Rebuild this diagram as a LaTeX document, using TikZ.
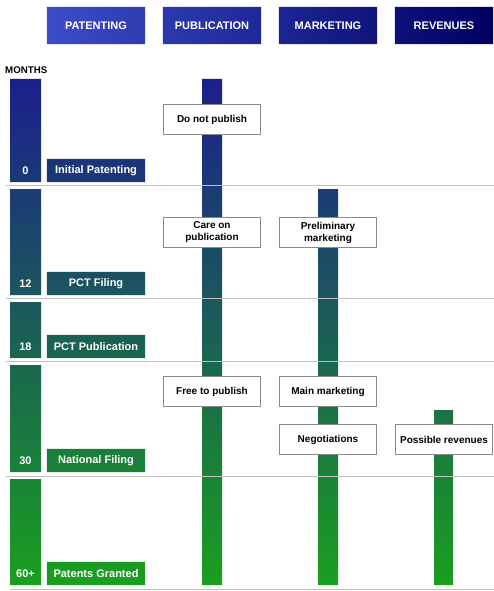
\documentclass[tikz,border=0pt]{standalone}
\usepackage{fontspec}
\setmainfont{Liberation Sans}
\usetikzlibrary{backgrounds}
\definecolor{headleft}{HTML}{3C4DC8}
\definecolor{headright}{HTML}{000062}
\definecolor{bartop}{HTML}{1B1F8C}
\definecolor{barbot}{HTML}{1A9F1F}
\definecolor{rulegray}{HTML}{C0C0C0}
\definecolor{boxgray}{HTML}{8A8A8A}
\tikzset{
  head/.style={minimum width=98bp, minimum height=37bp, inner sep=0pt, text=white,
    font=\bfseries\fontsize{11bp}{13bp}\selectfont},
  stage/.style={minimum width=98bp, minimum height=23bp, inner sep=0pt, text=white,
    font=\bfseries\fontsize{11bp}{13bp}\selectfont},
  monthnum/.style={inner sep=0pt, text=white, font=\bfseries\fontsize{11bp}{13bp}\selectfont},
  note/.style={draw=boxgray, line width=1bp, fill=white, minimum width=97bp,
    minimum height=30bp, inner sep=0pt, align=center,
    font=\bfseries\fontsize{10bp}{12bp}\selectfont},
  sep/.style={draw=rulegray, line width=1bp}
}

\begin{document}
\begin{tikzpicture}[x=1bp, y=-1bp]
  \useasboundingbox (0,0) rectangle (494,591);

  % Column headers
  \node[head] (hpat) at (96,25.5)  {PATENTING};
  \node[head] (hpub) at (212,25.5) {PUBLICATION};
  \node[head] (hmkt) at (328,25.5) {MARKETING};
  \node[head] (hrev) at (444,25.5) {REVENUES};

  \node[anchor=west, inner sep=0pt, font=\bfseries\fontsize{9.7bp}{11bp}\selectfont]
    (months) at (5,70.5) {MONTHS};

  % Separator lines
  \foreach \y in {185,298,361,476}
    \draw[sep] (6,\y) -- (494,\y);
  \draw[sep] (10,589) -- (494,589);

  % Month numbers and patent stages
  \foreach \b/\n/\txt [count=\i] in {182/0/Initial Patenting, 295/12/PCT Filing,
      358/18/PCT Publication, 472/30/National Filing, 585/60+/Patents Granted}{
    \node[monthnum] (m\i) at (25.5,\b-11.5) {\n};
    \node[stage] (s\i) at (96,\b-11.5) {\txt};
  }

  % Notes on the timelines
  \node[note] (nopub)  at (212,119.5) {Do not publish};
  \node[note] (care)   at (212,232.5) {Care on\\publication};
  \node[note] (prelim) at (328,232.5) {Preliminary\\marketing};
  \node[note] (free)   at (212,391.5) {Free to publish};
  \node[note] (mainm)  at (328,391.5) {Main marketing};
  \node[note] (nego)   at (328,439.5) {Negotiations};
  \node[note] (possrev) at (444,439.5) {Possible revenues};

  \begin{scope}[on background layer]
    % header gradient
    \begin{scope}
      \clip (hpat.south west) rectangle (hpat.north east)
            (hpub.south west) rectangle (hpub.north east)
            (hmkt.south west) rectangle (hmkt.north east)
            (hrev.south west) rectangle (hrev.north east);
      \shade[left color=headleft, right color=headright]
        (hpat.south west) rectangle (hrev.north east);
    \end{scope}
    % bars, one shared gradient
    \begin{scope}
      \clip \foreach \t/\b in {79/182,189/295,302/358,365/472,479/585}{
              (10,\t) rectangle (41,\b) }
            (s1.south west) rectangle (s1.north east)
            (s2.south west) rectangle (s2.north east)
            (s3.south west) rectangle (s3.north east)
            (s4.south west) rectangle (s4.north east)
            (s5.south west) rectangle (s5.north east)
            (202,79) rectangle (222,585)
            (318,189) rectangle (338,585)
            (434,410) rectangle (453,585);
      \shade[top color=bartop, bottom color=barbot] (0,79) rectangle (494,585);
    \end{scope}
  \end{scope}
\end{tikzpicture}
\end{document}
